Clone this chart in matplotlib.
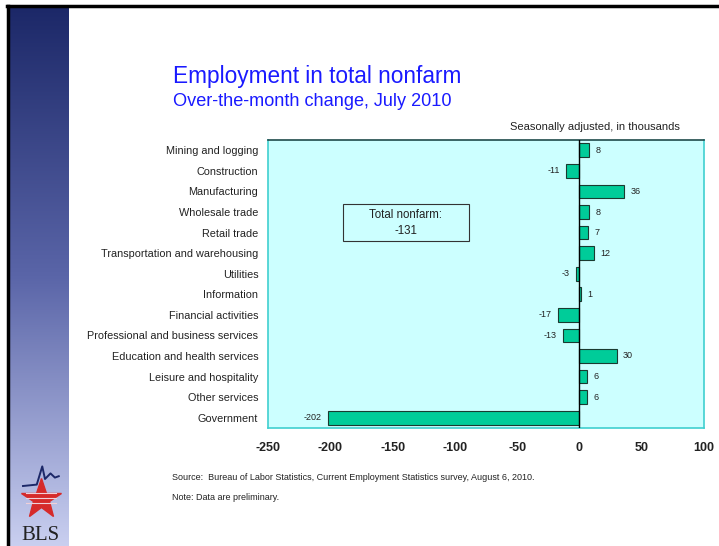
import matplotlib
matplotlib.use('Agg')
import matplotlib.pyplot as plt
import numpy as np
from matplotlib.patches import Rectangle

plt.rcParams['font.family'] = ['Liberation Sans', 'DejaVu Sans']

# Data: over-the-month change, thousands
industries = ["Mining and logging", "Construction", "Manufacturing",
              "Wholesale trade", "Retail trade", "Transportation and warehousing",
              "Utilities", "Information", "Financial activities",
              "Professional and business services", "Education and health services",
              "Leisure and hospitality", "Other services", "Government"]
changes = [8, -11, 36, 8, 7, 12, -3, 1, -17, -13, 30, 6, 6, -202]
x_ticks = [-250, -200, -150, -100, -50, 0, 50, 100]
total_nonfarm = -131

fig = plt.figure(figsize=(7.19, 5.46), dpi=100)

# Left gradient strip with border lines
strip = fig.add_axes([9 / 719, 0, 60 / 719, 1 - 7 / 546])
grad = np.linspace(0, 1, 256).reshape(-1, 1)
cmap = matplotlib.colors.LinearSegmentedColormap.from_list(
    'bls', ['#1c2868', '#5a65a8', '#c9cff0'])
strip.imshow(grad, aspect='auto', cmap=cmap, extent=[0, 1, 0, 1], origin='upper')
strip.axis('off')
fig.add_artist(plt.Line2D([7 / 719, 1], [1 - 6 / 546, 1 - 6 / 546],
                          color='black', lw=2.5, transform=fig.transFigure))
fig.add_artist(plt.Line2D([7.5 / 719, 7.5 / 719], [0, 1 - 6 / 546],
                          color='black', lw=2.5, transform=fig.transFigure))

# BLS logo (simplified)
logo = fig.add_axes([12 / 719, 18 / 546, 55 / 719, 70 / 546])
logo.set_xlim(0, 1)
logo.set_ylim(0, 1)
logo.axis('off')
logo.plot([0.52], [0.42], marker='*', markersize=30, color='#d62a2a',
          markeredgecolor='#d62a2a')
for yy in [0.36, 0.43, 0.50]:
    logo.plot([0.25, 0.8], [yy, yy], color='#f0d0d8', lw=0.8)
logo.plot([0.2, 0.45, 0.55, 0.6, 0.7, 0.78, 0.85], [0.6, 0.62, 0.88, 0.7, 0.78, 0.72, 0.74],
          color='#1c2868', lw=1.4)
fig.text(40 / 719, 1 - 535 / 546, 'BLS', ha='center', va='center', fontsize=15,
         family='Liberation Serif', color='#222222')

# Titles
fig.text(173 / 719, 1 - 76 / 546, 'Employment in total nonfarm', color='#1a1aff',
         fontsize=16.3, ha='left', va='center')
fig.text(173 / 719, 1 - 101 / 546, 'Over-the-month change, July 2010', color='#1a1aff',
         fontsize=13.1, ha='left', va='center')
fig.text(595 / 719, 1 - 127 / 546, 'Seasonally adjusted, in thousands', color='#222222',
         fontsize=8, ha='center', va='center')

# Main chart
ax = fig.add_axes([268 / 719, 1 - 428 / 546, 436 / 719, 288 / 546])
ax.set_facecolor('#ccffff')
y = np.arange(len(industries))
ax.barh(y, changes, height=0.66, color='#00cc99', edgecolor='#1a3a30', linewidth=0.8,
        zorder=2)
ax.axvline(0, color='black', lw=1, zorder=3)
for yi, v in zip(y, changes):
    if v >= 0:
        ax.text(v + 5, yi, str(v), ha='left', va='center', fontsize=6.5, color='#222222')
    else:
        ax.text(v - 5, yi, str(v), ha='right', va='center', fontsize=6.5, color='#222222')

ax.set_xlim(-250, 100)
ax.set_ylim(len(industries) - 0.5, -0.5)
ax.set_yticks(y)
ax.set_yticklabels(industries, fontsize=7.8, color='#222222')
ax.set_xticks(x_ticks)
ax.set_xticklabels([str(t) for t in x_ticks], fontsize=9, fontweight='bold', color='#222222')
ax.tick_params(axis='both', length=0)
ax.tick_params(axis='y', pad=7)
ax.tick_params(axis='x', pad=10)
for side in ['left', 'right', 'bottom']:
    ax.spines[side].set_color('#40d0d0')
    ax.spines[side].set_linewidth(1.2)
ax.spines['top'].set_color('#1e4a4a')
ax.spines['top'].set_linewidth(1.2)

# Total nonfarm box
ax.add_patch(Rectangle((-190, 2.61), 101, 1.8, facecolor='none', edgecolor='#333333',
                       linewidth=0.8, zorder=3))
ax.text(-139.5, 3.15, 'Total nonfarm:', ha='center', va='center', fontsize=8.3, color='#222222')
ax.text(-139.5, 3.92, str(total_nonfarm), ha='center', va='center', fontsize=8.3, color='#222222')

# Footnotes
fig.text(172 / 719, 1 - 478 / 546,
         'Source:  Bureau of Labor Statistics, Current Employment Statistics survey, August 6, 2010.',
         fontsize=6.5, color='#222222', ha='left', va='center')
fig.text(172 / 719, 1 - 497 / 546, 'Note: Data are preliminary.',
         fontsize=6.5, color='#222222', ha='left', va='center')

fig.savefig('out.png', dpi=100)
